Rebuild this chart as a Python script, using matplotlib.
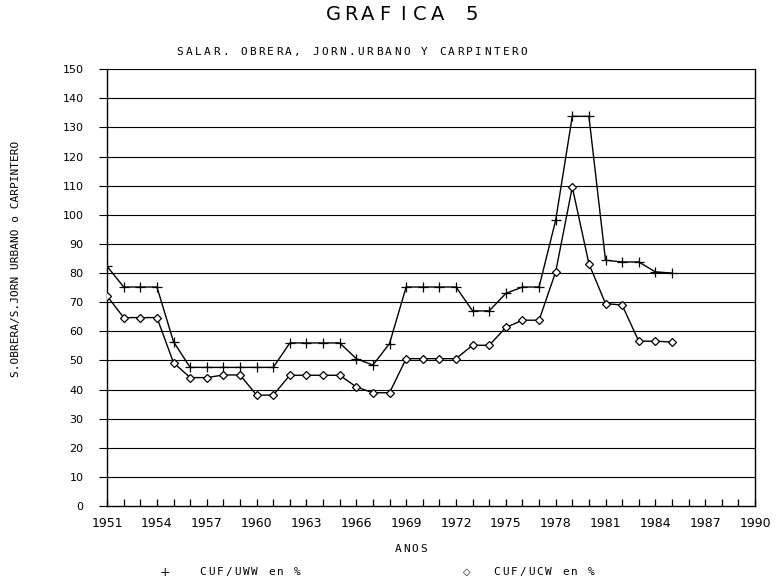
import numpy as np
import matplotlib.pyplot as plt

plt.rcParams['font.family'] = 'DejaVu Sans'

years = list(range(1951, 1986))
# CUF/UWW en %  (marcador +)
cuf_uww = [82.3, 75.2, 75.2, 75.2, 56.4, 47.6, 47.6, 47.6, 47.6, 47.6,
           47.6, 56.0, 56.0, 56.0, 56.0, 50.6, 48.4, 55.8, 75.2, 75.2,
           75.2, 75.2, 67.0, 67.0, 73.0, 75.2, 75.2, 98.1, 133.8, 133.8,
           84.4, 83.8, 83.8, 80.4, 80.0]
# CUF/UCW en %  (marcador rombo)
cuf_ucw = [72.1, 64.7, 64.7, 64.7, 49.2, 44.1, 44.1, 45.0, 45.0, 38.1,
           38.1, 44.9, 44.9, 44.9, 44.9, 40.9, 38.9, 38.9, 50.6, 50.6,
           50.6, 50.6, 55.2, 55.2, 61.3, 63.8, 63.8, 80.4, 109.5, 83.2,
           69.5, 69.0, 56.6, 56.6, 56.3]
xticks = list(range(1951, 1991, 3))
yticks = list(range(0, 151, 10))

W, H = 776, 581
fig = plt.figure(figsize=(W / 100, H / 100), dpi=100)
ax = fig.add_axes([0.138, 0.129, 0.835, 0.752])


def spaced(x0, y, s, pitch, size, family='DejaVu Sans'):
    # plotter-like lettering: one glyph per fixed cell (pixel units)
    for i, ch in enumerate(s):
        if ch != ' ':
            fig.text((x0 + i * pitch) / W, 1 - y / H, ch, family=family,
                     ha='center', va='center', fontsize=size)


for y in yticks[1:]:
    ax.axhline(y, color='black', lw=0.8, zorder=1)

ax.plot(years, cuf_uww, color='black', lw=1.0, marker='+', ms=7, mew=0.9, zorder=3)
ax.plot(years, cuf_ucw, color='black', lw=1.0, marker='D', ms=4.5, mew=0.9,
        mfc='white', mec='black', zorder=3)

ax.set_xlim(1951, 1990)
ax.set_ylim(0, 150)
ax.set_xticks(xticks)
ax.set_xticks(range(1951, 1991), minor=True)
ax.set_yticks(yticks)
ax.tick_params(axis='x', which='both', direction='in', length=5, width=0.9,
               labelsize=9, pad=8)
ax.tick_params(axis='y', direction='out', length=6, width=0.8, labelsize=8, pad=11)
for s in ['left', 'bottom', 'right']:
    ax.spines[s].set_linewidth(1.0)
ax.spines['top'].set_visible(False)

mono = 'DejaVu Sans Mono'
spaced(333, 15, 'GRAFICA 5', 17.4, 14)
spaced(180, 52, 'SALAR. OBRERA, JORN.URBANO Y CARPINTERO', 9.05, 8, mono)
fig.text(16 / W, 1 - 259 / H, 'S.OBRERA/S.JORN URBANO o CARPINTERO', family=mono,
         rotation=90, ha='center', va='center', fontsize=8)
spaced(398, 549, 'ANOS', 8.6, 8, mono)
fig.text(165 / W, 1 - 572 / H, '+', ha='center', va='center', fontsize=9)
spaced(203, 572, 'CUF/UWW en %', 8.6, 8, mono)
fig.text(467 / W, 1 - 572 / H, '\u25c7', ha='center', va='center', fontsize=7)
spaced(497, 572, 'CUF/UCW en %', 8.6, 8, mono)

fig.savefig('out.png', dpi=100)
